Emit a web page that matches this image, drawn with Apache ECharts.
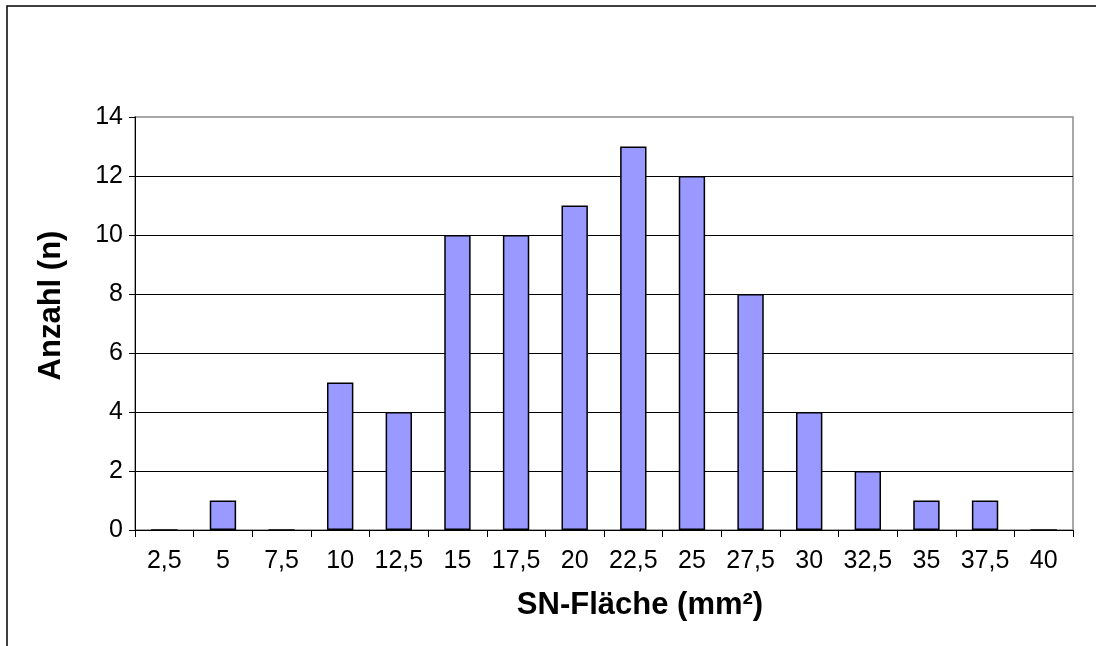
<!DOCTYPE html>
<html>
<head>
<meta charset="utf-8">
<script src="https://cdn.jsdelivr.net/npm/echarts@6/dist/echarts.min.js"></script>
<style>
  html, body { margin: 0; padding: 0; background: #fff; }
  #chart { width: 1096px; height: 646px; }
</style>
</head>
<body>
<div id="chart"></div>
<script>
// SN-Fläche classes (mm²) and counts
const categories = ['2,5', '5', '7,5', '10', '12,5', '15', '17,5', '20', '22,5', '25', '27,5', '30', '32,5', '35', '37,5', '40']
const counts = [0, 1, 0, 5, 4, 10, 10, 11, 13, 12, 8, 4, 2, 1, 1, 0]
const yTicks = { min: 0, max: 14, interval: 2 }

const font = '"Liberation Sans", Arial, sans-serif'
const chart = echarts.init(document.getElementById('chart'), null, { renderer: 'canvas' })

chart.setOption({
  backgroundColor: '#fff',
  animation: false,
  grid: {
    left: 135, right: 23, top: 117, bottom: 116,
    show: true, borderColor: '#8c8c8c', borderWidth: 1.5, backgroundColor: 'transparent'
  },
  graphic: [{
    type: 'polyline',
    shape: { points: [[7, 646], [7, 6], [1096, 6]] },
    style: { stroke: '#000', lineWidth: 1.5, fill: null }
  }],
  xAxis: {
    type: 'category',
    data: categories,
    boundaryGap: true,
    name: 'SN-Fläche (mm²)',
    nameLocation: 'middle',
    nameGap: 60,
    nameTextStyle: { fontFamily: font, fontSize: 31, fontWeight: 'bold', color: '#000', padding: [0, 0, 0, 72] },
    axisLine: { lineStyle: { color: '#000', width: 1 } },
    axisTick: { show: true, inside: false, length: 7, alignWithLabel: false, lineStyle: { color: '#000' } },
    axisLabel: { fontFamily: font, fontSize: 25, color: '#000', margin: 19, interval: 0 },
    splitLine: { show: false }
  },
  yAxis: {
    type: 'value',
    min: yTicks.min, max: yTicks.max, interval: yTicks.interval,
    name: 'Anzahl (n)',
    nameLocation: 'middle',
    nameGap: 68,
    nameTextStyle: { fontFamily: font, fontSize: 31, fontWeight: 'bold', color: '#000', padding: [0, 0, 0, 36] },
    axisLine: { show: true, lineStyle: { color: '#000', width: 1 } },
    axisTick: { show: true, inside: false, length: 6, lineStyle: { color: '#000' } },
    axisLabel: { fontFamily: font, fontSize: 25, color: '#000', margin: 12 },
    splitLine: { show: true, showMinLine: false, showMaxLine: false, lineStyle: { color: '#000', width: 1 } }
  },
  series: [{
    type: 'bar',
    data: counts,
    barWidth: '45%',
    itemStyle: { color: '#9999ff', borderColor: '#000', borderWidth: 1.5 }
  }]
})
</script>
</body>
</html>
